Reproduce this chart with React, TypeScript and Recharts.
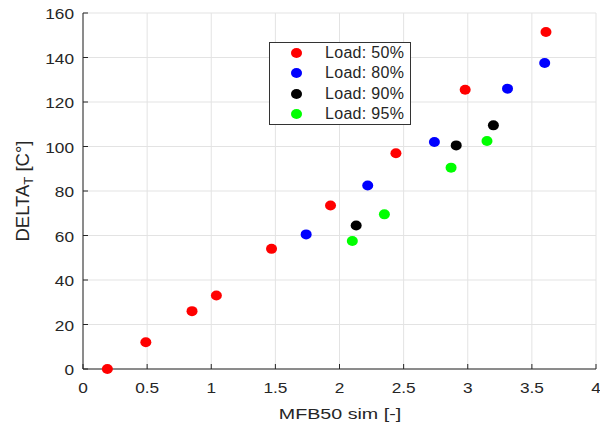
import React from "react";
import { CartesianGrid, Label, Legend, Scatter, ScatterChart, XAxis, YAxis } from "recharts";

const xTicks = [0, 0.5, 1, 1.5, 2, 2.5, 3, 3.5, 4];
const yTicks = [0, 20, 40, 60, 80, 100, 120, 140, 160];

const load50X = [0.19, 0.49, 0.85, 1.04, 1.47, 1.93, 2.44, 2.98, 3.61];
const load50Y = [0, 12, 26, 33, 54, 73.5, 97, 125.5, 151.5];
const load80X = [1.74, 2.22, 2.74, 3.31, 3.6];
const load80Y = [60.5, 82.5, 102, 126, 137.5];
const load90X = [2.13, 2.91, 3.2];
const load90Y = [64.5, 100.5, 109.5];
const load95X = [2.1, 2.35, 2.87, 3.15];
const load95Y = [57.5, 69.5, 90.5, 102.5];

const series = [
  { name: "Load: 50%", color: "#ff0000", xs: load50X, ys: load50Y },
  { name: "Load: 80%", color: "#0000ff", xs: load80X, ys: load80Y },
  { name: "Load: 90%", color: "#000000", xs: load90X, ys: load90Y },
  { name: "Load: 95%", color: "#00ff00", xs: load95X, ys: load95Y },
];

const FONT = "'Liberation Sans', Arial, sans-serif";
const TEXT = "#262626";
const AXIS = "#262626";
const TICK_LEN = 5;
// the source figure was stretched sideways, so text is a bit wider than tall
const STRETCH = 1.15;

const Dot = (props: any) => {
  const { cx, cy, fill } = props;
  return <ellipse cx={cx} cy={cy} rx={5.5} ry={5} fill={fill} />;
};

const LeftTick = (props: any) => {
  const { x, y, payload } = props;
  return (
    <g>
      <line x1={x} y1={y} x2={x + TICK_LEN} y2={y} stroke={AXIS} />
      <text
        transform={`translate(${x - 9},${y}) scale(${STRETCH},1)`}
        dy={6.3}
        textAnchor="end"
        fill={TEXT}
        fontSize={15}
        fontFamily={FONT}
      >
        {payload.value}
      </text>
    </g>
  );
};

const BottomTick = (props: any) => {
  const { x, y, payload } = props;
  return (
    <g>
      <line x1={x} y1={y} x2={x} y2={y - TICK_LEN} stroke={AXIS} />
      <text
        transform={`translate(${x},${y + 24}) scale(${STRETCH},1)`}
        textAnchor="middle"
        fill={TEXT}
        fontSize={15}
        fontFamily={FONT}
      >
        {payload.value}
      </text>
    </g>
  );
};

const TopTick = (props: any) => {
  const { x, y } = props;
  return <line x1={x} y1={y} x2={x} y2={y + TICK_LEN} stroke={AXIS} />;
};

const RightTick = (props: any) => {
  const { x, y } = props;
  return <line x1={x} y1={y} x2={x - TICK_LEN} y2={y} stroke={AXIS} />;
};

const LegendBox = () => (
  <div
    style={{
      border: "1px solid #333",
      background: "#fff",
      width: 140,
      fontFamily: FONT,
      fontSize: 16,
      letterSpacing: 0.3,
      color: TEXT,
    }}
  >
    {series.map((s) => (
      <div key={s.name} style={{ height: 20.3, display: "flex", alignItems: "center" }}>
        <span
          style={{
            display: "inline-block",
            width: 11,
            height: 10,
            borderRadius: "50%",
            background: s.color,
            marginLeft: 21,
            marginRight: 23,
          }}
        />
        <span>{s.name}</span>
      </div>
    ))}
  </div>
);

const App: React.FC = () => {
  return (
    <div style={{ position: "absolute", left: 0, top: 0, width: 600, height: 425, background: "#fff" }}>
      <ScatterChart width={600} height={425} margin={{ top: 13, right: 4, bottom: 0, left: 0 }}>
        <CartesianGrid stroke="#e3e3e3" />
        <XAxis
          xAxisId="top"
          orientation="top"
          type="number"
          dataKey="x"
          domain={[0, 4]}
          ticks={xTicks}
          height={0}
          tickSize={0}
          tickMargin={0}
          tickLine={false}
          tick={<TopTick />}
          axisLine={{ stroke: AXIS }}
        />
        <YAxis
          yAxisId="right"
          orientation="right"
          type="number"
          dataKey="y"
          domain={[0, 160]}
          ticks={yTicks}
          width={0}
          tickSize={0}
          tickMargin={0}
          tickLine={false}
          tick={<RightTick />}
          axisLine={{ stroke: AXIS }}
        />
        <XAxis
          type="number"
          dataKey="x"
          domain={[0, 4]}
          ticks={xTicks}
          height={56}
          tickSize={0}
          tickMargin={0}
          tickLine={false}
          tick={<BottomTick />}
          axisLine={{ stroke: AXIS }}
        >
          <Label
            content={() => (
              <text
                transform="translate(340,419) scale(1.27,1)"
                textAnchor="middle"
                fill={TEXT}
                fontSize={15.5}
                fontFamily={FONT}
              >
                MFB50 sim [-]
              </text>
            )}
          />
        </XAxis>
        <YAxis
          type="number"
          dataKey="y"
          domain={[0, 160]}
          ticks={yTicks}
          width={83}
          tickSize={0}
          tickMargin={0}
          tickLine={false}
          tick={<LeftTick />}
          axisLine={{ stroke: AXIS }}
        >
          <Label
            content={() => (
              <text
                x={29}
                y={191}
                textAnchor="middle"
                transform="rotate(-90, 29, 191)"
                fill={TEXT}
                fontSize={18.5}
                fontFamily={FONT}
              >
                <tspan>DELTA</tspan>
                <tspan dy={4} fontSize={13}>T</tspan>
                <tspan dy={-4}> [C°]</tspan>
              </text>
            )}
          />
        </YAxis>
        <Legend
          layout="vertical"
          align="center"
          verticalAlign="middle"
          content={<LegendBox />}
          wrapperStyle={{ position: "absolute", left: 269, top: 42, width: 142, bottom: "auto" }}
        />
        {series.map((s) => (
          <Scatter
            key={s.name}
            name={s.name}
            data={s.xs.map((x, i) => ({ x, y: s.ys[i] }))}
            fill={s.color}
            shape={<Dot />}
            isAnimationActive={false}
          />
        ))}
      </ScatterChart>
    </div>
  );
};

export default App;
